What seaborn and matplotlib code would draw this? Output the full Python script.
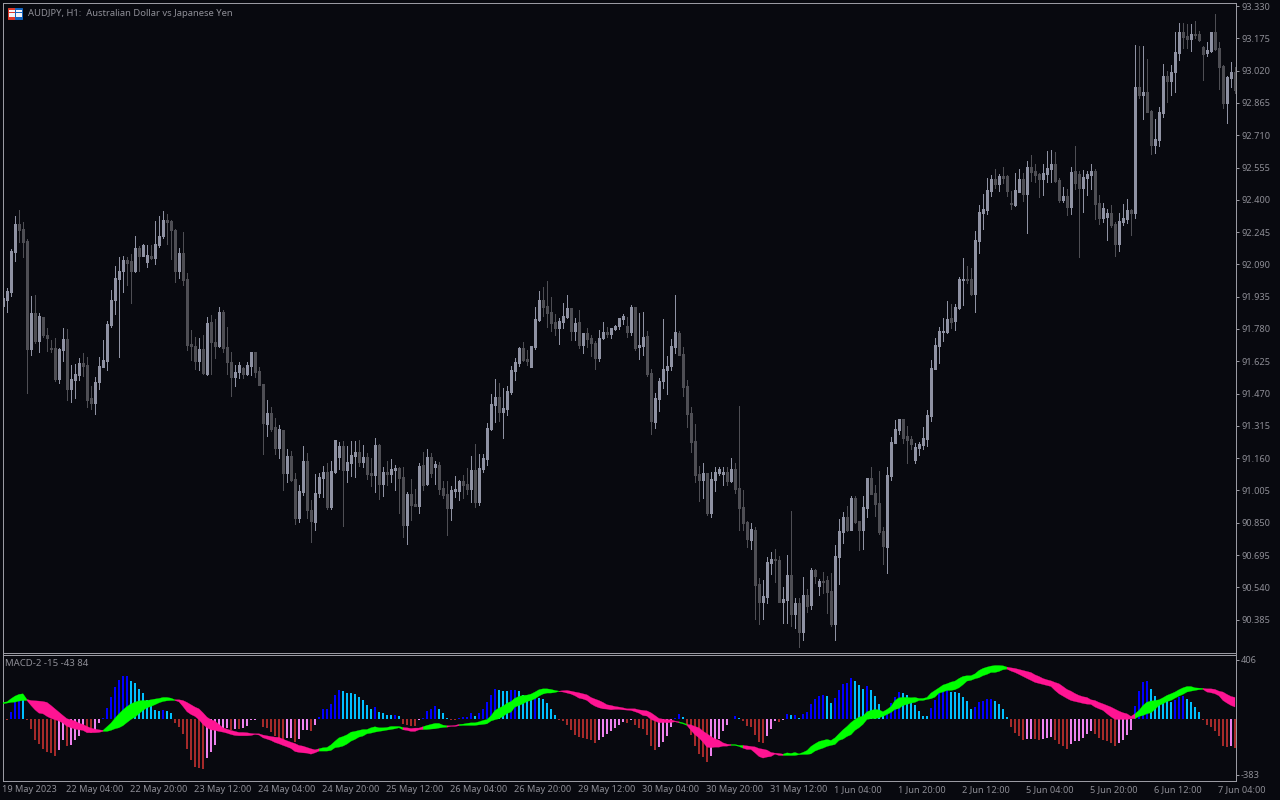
import numpy as np
import pandas as pd
import matplotlib
matplotlib.use("Agg")
import matplotlib.pyplot as plt
from matplotlib.patches import Rectangle
import seaborn as sns

candle_open = [
    91.890, 91.919, 91.957, 92.151, 92.284, 92.260, 92.202, 91.684, 91.857, 91.722,
    91.837, 91.751, 91.689, 91.689, 91.540, 91.679, 91.732, 91.492, 91.535, 91.559,
    91.617, 91.607, 91.449, 91.425, 91.525, 91.597, 91.626, 91.799, 91.919, 92.020,
    92.058, 92.111, 92.106, 92.058, 92.169, 92.130, 92.101, 92.130, 92.121, 92.183,
    92.226, 92.303, 92.298, 92.255, 92.058, 92.145, 92.020, 91.708, 91.698, 91.626,
    91.684, 91.564, 91.813, 91.717, 91.698, 91.861, 91.693, 91.621, 91.549, 91.573,
    91.593, 91.564, 91.602, 91.669, 91.578, 91.516, 91.324, 91.377, 91.309, 91.209,
    91.295, 91.089, 91.170, 91.060, 90.873, 90.997, 91.146, 90.911, 90.853, 90.993,
    91.065, 91.093, 90.925, 91.093, 91.165, 91.218, 91.103, 91.137, 91.170, 91.189,
    91.141, 91.165, 91.089, 91.079, 91.223, 91.036, 91.093, 91.084, 91.103, 91.113,
    91.069, 90.839, 90.988, 90.940, 90.930, 91.127, 91.036, 91.165, 91.117, 91.127,
    91.017, 90.988, 90.921, 91.002, 91.002, 91.050, 91.036, 91.012, 91.103, 90.949,
    91.108, 91.156, 91.300, 91.415, 91.453, 91.381, 91.396, 91.477, 91.578, 91.617,
    91.689, 91.636, 91.597, 91.693, 91.823, 91.919, 91.890, 91.861, 91.813, 91.785,
    91.813, 91.837, 91.881, 91.770, 91.813, 91.703, 91.761, 91.737, 91.713, 91.641,
    91.737, 91.765, 91.756, 91.780, 91.794, 91.828, 91.794, 91.765, 91.885, 91.693,
    91.698, 91.746, 91.569, 91.333, 91.444, 91.530, 91.583, 91.602, 91.693, 91.761,
    91.660, 91.506, 91.377, 91.242, 91.084, 91.055, 91.089, 90.897, 91.055, 91.089,
    91.084, 91.093, 91.050, 91.108, 91.017, 90.925, 90.853, 90.767, 90.815, 90.556,
    90.469, 90.493, 90.657, 90.676, 90.671, 90.469, 90.479, 90.599, 90.412, 90.465,
    90.325, 90.503, 90.455, 90.623, 90.546, 90.570, 90.575, 90.522, 90.364, 90.685,
    90.805, 90.877, 90.815, 90.969, 90.858, 90.815, 90.921, 91.065, 90.993, 90.945,
    90.810, 90.733, 91.074, 91.233, 91.295, 91.348, 91.266, 91.252, 91.151, 91.209,
    91.223, 91.252, 91.362, 91.588, 91.698, 91.765, 91.765, 91.833, 91.818, 91.881,
    92.015, 92.020, 92.020, 91.948, 92.202, 92.337, 92.351, 92.442, 92.500, 92.476,
    92.514, 92.514, 92.385, 92.377, 92.437, 92.500, 92.428, 92.557, 92.538, 92.524,
    92.500, 92.524, 92.548, 92.572, 92.495, 92.399, 92.418, 92.365, 92.538, 92.524,
    92.457, 92.505, 92.519, 92.538, 92.385, 92.313, 92.317, 92.337, 92.284, 92.188,
    92.293, 92.308, 92.351, 92.337, 92.941, 92.903, 92.917, 92.826, 92.663, 92.687,
    92.817, 92.994, 92.970, 93.013, 93.105, 93.205, 93.186, 93.172, 93.196, 93.196,
    93.133, 93.105, 93.114, 93.205, 93.129, 93.042, 92.865, 92.984, 93.013,
]
candle_close = [
    91.927, 91.962, 92.154, 92.284, 92.255, 92.197, 91.684, 91.857, 91.722, 91.842,
    91.751, 91.737, 91.684, 91.540, 91.684, 91.732, 91.492, 91.540, 91.564, 91.617,
    91.602, 91.439, 91.425, 91.525, 91.602, 91.631, 91.804, 91.919, 92.025, 92.058,
    92.111, 92.097, 92.058, 92.169, 92.130, 92.183, 92.135, 92.121, 92.188, 92.226,
    92.303, 92.293, 92.255, 92.058, 92.145, 92.015, 91.703, 91.698, 91.626, 91.684,
    91.569, 91.809, 91.717, 91.698, 91.861, 91.689, 91.621, 91.549, 91.573, 91.607,
    91.564, 91.607, 91.669, 91.573, 91.511, 91.329, 91.377, 91.300, 91.209, 91.300,
    91.089, 91.170, 91.055, 90.873, 91.002, 91.146, 90.911, 90.858, 90.993, 91.069,
    91.093, 90.925, 91.098, 91.247, 91.218, 91.103, 91.141, 91.175, 91.189, 91.141,
    91.165, 91.084, 91.079, 91.223, 91.036, 91.093, 91.084, 91.108, 91.113, 91.065,
    90.839, 90.988, 90.935, 90.930, 91.122, 91.031, 91.165, 91.089, 91.132, 91.012,
    90.983, 90.921, 91.007, 91.012, 91.050, 91.031, 91.012, 91.103, 90.949, 91.113,
    91.161, 91.305, 91.420, 91.453, 91.381, 91.401, 91.482, 91.583, 91.621, 91.689,
    91.631, 91.626, 91.698, 91.828, 91.919, 91.885, 91.857, 91.809, 91.785, 91.818,
    91.842, 91.881, 91.770, 91.809, 91.703, 91.761, 91.732, 91.713, 91.641, 91.737,
    91.765, 91.756, 91.785, 91.794, 91.833, 91.842, 91.765, 91.885, 91.689, 91.703,
    91.741, 91.564, 91.338, 91.449, 91.530, 91.588, 91.602, 91.698, 91.765, 91.655,
    91.501, 91.372, 91.237, 91.079, 91.055, 91.089, 90.897, 91.060, 91.093, 91.108,
    91.093, 91.050, 91.108, 91.012, 90.921, 90.849, 90.772, 90.820, 90.551, 90.469,
    90.498, 90.661, 90.676, 90.671, 90.469, 90.484, 90.599, 90.412, 90.465, 90.325,
    90.503, 90.450, 90.623, 90.594, 90.570, 90.565, 90.517, 90.364, 90.690, 90.810,
    90.877, 90.815, 90.969, 90.853, 90.815, 90.925, 91.065, 90.988, 90.940, 90.805,
    90.738, 91.079, 91.237, 91.300, 91.348, 91.257, 91.247, 91.228, 91.213, 91.228,
    91.257, 91.367, 91.593, 91.703, 91.770, 91.770, 91.828, 91.813, 91.885, 92.020,
    92.020, 92.015, 91.948, 92.207, 92.341, 92.354, 92.447, 92.500, 92.476, 92.514,
    92.505, 92.442, 92.380, 92.447, 92.500, 92.428, 92.557, 92.533, 92.519, 92.500,
    92.529, 92.553, 92.572, 92.490, 92.399, 92.418, 92.365, 92.533, 92.481, 92.457,
    92.509, 92.524, 92.538, 92.380, 92.313, 92.361, 92.337, 92.279, 92.188, 92.298,
    92.313, 92.351, 92.337, 92.941, 92.903, 92.917, 92.821, 92.663, 92.692, 92.821,
    92.994, 92.970, 93.013, 93.109, 93.205, 93.181, 93.172, 93.196, 93.191, 93.167,
    93.100, 93.119, 93.205, 93.124, 93.037, 92.865, 92.989, 93.013, 92.927,
]
candle_high = [
    91.927, 91.975, 92.164, 92.322, 92.351, 92.292, 92.212, 91.938, 91.943, 91.857,
    91.837, 91.785, 91.727, 91.737, 91.689, 91.785, 91.780, 91.607, 91.612, 91.641,
    91.665, 91.645, 91.506, 91.549, 91.645, 91.727, 91.818, 91.967, 92.082, 92.125,
    92.130, 92.125, 92.140, 92.226, 92.178, 92.188, 92.183, 92.183, 92.298, 92.322,
    92.346, 92.332, 92.303, 92.260, 92.169, 92.245, 92.049, 91.775, 91.741, 91.737,
    91.751, 91.837, 91.847, 91.828, 91.885, 91.871, 91.789, 91.669, 91.607, 91.621,
    91.597, 91.621, 91.669, 91.669, 91.597, 91.516, 91.439, 91.405, 91.353, 91.319,
    91.295, 91.204, 91.194, 91.089, 91.031, 91.218, 91.185, 90.959, 91.084, 91.089,
    91.122, 91.137, 91.146, 91.247, 91.237, 91.242, 91.218, 91.242, 91.242, 91.247,
    91.223, 91.185, 91.161, 91.257, 91.228, 91.117, 91.146, 91.156, 91.127, 91.117,
    91.117, 90.997, 91.060, 91.012, 91.137, 91.189, 91.204, 91.185, 91.146, 91.141,
    91.050, 91.050, 91.026, 91.074, 91.055, 91.079, 91.113, 91.170, 91.228, 91.180,
    91.180, 91.329, 91.468, 91.540, 91.521, 91.497, 91.506, 91.602, 91.641, 91.693,
    91.717, 91.679, 91.698, 91.885, 91.962, 91.981, 92.010, 91.933, 91.852, 91.833,
    91.905, 91.943, 91.881, 91.833, 91.871, 91.761, 91.785, 91.751, 91.722, 91.775,
    91.813, 91.789, 91.785, 91.799, 91.833, 91.852, 91.837, 91.895, 91.885, 91.857,
    91.861, 91.770, 91.588, 91.473, 91.545, 91.828, 91.650, 91.732, 91.943, 91.770,
    91.693, 91.535, 91.405, 91.324, 91.122, 91.137, 91.089, 91.093, 91.117, 91.117,
    91.117, 91.117, 91.161, 91.137, 91.410, 91.007, 90.858, 90.849, 90.829, 90.585,
    90.575, 90.685, 90.709, 90.724, 90.690, 90.541, 90.695, 90.906, 90.489, 90.489,
    90.589, 90.532, 90.633, 90.628, 90.580, 90.613, 90.594, 90.608, 90.743, 90.868,
    90.901, 90.930, 90.978, 90.978, 90.858, 90.978, 91.065, 91.117, 91.031, 91.098,
    90.829, 91.117, 91.261, 91.343, 91.348, 91.348, 91.314, 91.266, 91.233, 91.237,
    91.309, 91.391, 91.631, 91.737, 91.789, 91.833, 91.914, 91.900, 91.900, 92.029,
    92.121, 92.082, 92.073, 92.250, 92.375, 92.428, 92.505, 92.519, 92.548, 92.524,
    92.557, 92.519, 92.442, 92.529, 92.548, 92.529, 92.586, 92.615, 92.572, 92.529,
    92.572, 92.634, 92.639, 92.629, 92.505, 92.461, 92.452, 92.557, 92.658, 92.538,
    92.543, 92.538, 92.572, 92.548, 92.423, 92.385, 92.356, 92.375, 92.293, 92.337,
    92.380, 92.404, 92.356, 93.143, 93.138, 93.138, 93.076, 92.831, 92.788, 92.845,
    93.052, 93.018, 93.047, 93.205, 93.249, 93.249, 93.244, 93.244, 93.258, 93.210,
    93.138, 93.157, 93.205, 93.292, 93.157, 93.047, 92.994, 93.061, 93.037,
]
candle_low = [
    91.890, 91.863, 91.938, 92.108, 92.197, 92.127, 91.474, 91.655, 91.713, 91.669,
    91.741, 91.674, 91.669, 91.530, 91.521, 91.626, 91.439, 91.429, 91.449, 91.535,
    91.554, 91.405, 91.396, 91.372, 91.492, 91.597, 91.583, 91.789, 91.852, 91.645,
    91.957, 91.991, 91.905, 92.053, 92.058, 92.130, 92.077, 92.116, 92.092, 92.173,
    92.217, 92.188, 92.116, 92.005, 92.025, 91.991, 91.679, 91.631, 91.588, 91.583,
    91.564, 91.559, 91.564, 91.641, 91.693, 91.669, 91.564, 91.458, 91.506, 91.545,
    91.545, 91.559, 91.559, 91.549, 91.511, 91.180, 91.266, 91.290, 91.180, 91.161,
    91.007, 91.045, 91.050, 90.844, 90.853, 90.983, 90.873, 90.757, 90.815, 90.973,
    90.973, 90.916, 90.916, 91.089, 91.108, 90.834, 91.045, 91.074, 91.069, 91.122,
    91.117, 91.060, 91.026, 90.997, 90.964, 90.978, 91.031, 91.045, 91.007, 90.897,
    90.781, 90.748, 90.863, 90.930, 90.897, 91.007, 91.031, 91.069, 91.036, 90.988,
    90.969, 90.791, 90.863, 90.973, 90.959, 90.969, 90.988, 90.949, 90.925, 90.935,
    91.093, 91.127, 91.295, 91.333, 91.338, 91.257, 91.367, 91.468, 91.535, 91.602,
    91.626, 91.607, 91.597, 91.684, 91.818, 91.842, 91.789, 91.770, 91.751, 91.708,
    91.785, 91.833, 91.727, 91.727, 91.689, 91.665, 91.693, 91.650, 91.588, 91.626,
    91.732, 91.741, 91.737, 91.775, 91.780, 91.804, 91.741, 91.751, 91.679, 91.636,
    91.655, 91.554, 91.276, 91.305, 91.386, 91.497, 91.468, 91.583, 91.665, 91.655,
    91.458, 91.309, 91.189, 91.045, 90.954, 90.969, 90.887, 90.877, 91.002, 91.079,
    91.031, 91.031, 91.045, 90.993, 90.815, 90.815, 90.733, 90.724, 90.388, 90.364,
    90.388, 90.465, 90.604, 90.565, 90.469, 90.369, 90.369, 90.354, 90.345, 90.253,
    90.287, 90.421, 90.436, 90.561, 90.503, 90.513, 90.417, 90.354, 90.287, 90.556,
    90.753, 90.810, 90.815, 90.849, 90.719, 90.724, 90.877, 90.988, 90.882, 90.796,
    90.652, 90.609, 91.055, 91.233, 91.276, 91.233, 91.137, 91.204, 91.137, 91.175,
    91.204, 91.218, 91.338, 91.588, 91.617, 91.722, 91.761, 91.785, 91.775, 91.876,
    91.895, 92.001, 91.943, 91.861, 92.145, 92.260, 92.332, 92.418, 92.457, 92.442,
    92.481, 92.418, 92.356, 92.370, 92.437, 92.394, 92.241, 92.490, 92.485, 92.413,
    92.423, 92.485, 92.485, 92.485, 92.389, 92.389, 92.327, 92.332, 92.452, 92.125,
    92.341, 92.423, 92.452, 92.308, 92.284, 92.293, 92.207, 92.269, 92.130, 92.154,
    92.279, 92.289, 92.231, 92.313, 92.889, 92.788, 92.821, 92.620, 92.625, 92.658,
    92.797, 92.869, 92.903, 92.917, 93.071, 93.129, 93.129, 93.114, 93.177, 93.162,
    92.975, 93.090, 93.109, 93.119, 92.932, 92.841, 92.769, 92.941, 92.913,
]

macd_hist = [
    0, -7, 50, 114, 137, 130, -7, -69, -144, -174,
    -206, -226, -233, -254, -213, -144, -185, -178, -144, -117,
    -75, -89, -96, -75, -27, 7, 75, 151, 219, 267,
    295, 295, 261, 247, 206, 178, 130, 89, 62, 55,
    62, 55, 41, -27, -55, -103, -206, -281, -329, -336,
    -343, -267, -226, -178, -82, -62, -62, -75, -69, -70,
    -62, -48, -7, -7, -2, -55, -62, -89, -117, -130,
    -144, -130, -130, -158, -137, -75, -75, -82, -41, 14,
    69, 69, 103, 165, 199, 192, 178, 177, 171, 151,
    130, 96, 69, 82, 48, 41, 27, 26, 27, 21,
    -34, -41, -48, -49, -7, 7, 55, 69, 89, 69,
    41, 7, -5, -6, 7, 14, 14, 41, 21, 41,
    69, 117, 165, 206, 199, 192, 191, 199, 199, 192,
    165, 151, 130, 151, 144, 137, 110, 69, 27, -5,
    -14, -41, -75, -110, -123, -130, -137, -144, -165, -144,
    -123, -103, -82, -62, -41, -21, -27, -7, -41, -62,
    -69, -110, -185, -213, -192, -158, -117, -55, 7, 34,
    14, -41, -110, -185, -240, -261, -295, -254, -192, -137,
    -82, -41, 0, 21, 7, -14, -48, -55, -110, -158,
    -165, -117, -69, -14, -21, -5, 34, 27, 28, 7,
    34, 48, 103, 137, 158, 165, 158, 110, 144, 199,
    240, 247, 281, 261, 233, 206, 226, 199, 158, 103,
    46, 48, 110, 151, 185, 178, 165, 123, 96, 55,
    21, 20, 75, 130, 178, 199, 206, 185, 184, 178,
    151, 123, 69, 82, 117, 123, 137, 137, 123, 103,
    69, 14, -55, -96, -117, -144, -137, -137, -138, -144,
    -137, -130, -123, -144, -171, -185, -206, -171, -151, -151,
    -130, -103, -82, -103, -130, -144, -151, -165, -185, -165,
    -144, -110, -75, 89, 192, 254, 261, 206, 158, 130,
    129, 123, 117, 130, 151, 158, 137, 117, 82, 48,
    -5, -41, -55, -82, -117, -185, -192, -185, -199,
]
band_upper = [
    117, 121, 142, 160, 172, 176, 137, 130, 128, 126,
    123, 117, 96, 73, 50, 27, 5, -2, -11, -25,
    -34, -48, -59, -66, -71, -75, -50, -25, 9, 39,
    66, 89, 107, 119, 128, 130, 130, 135, 140, 144,
    151, 151, 146, 135, 135, 130, 117, 101, 85, 73,
    46, 16, -2, -11, -34, -57, -66, -75, -82, -89,
    -89, -91, -96, -98, -98, -107, -112, -117, -121, -123,
    -135, -146, -156, -165, -178, -183, -192, -201, -208, -201,
    -194, -192, -174, -149, -126, -117, -105, -87, -82, -75,
    -69, -69, -57, -50, -57, -57, -55, -48, -48, -48,
    -55, -57, -62, -59, -59, -50, -41, -34, -27, -27,
    -39, -43, -43, -41, -34, -32, -27, -23, -23, -16,
    -7, 0, 25, 62, 78, 91, 112, 123, 146, 158,
    165, 167, 174, 188, 204, 210, 210, 206, 199, 194,
    197, 199, 194, 188, 183, 176, 169, 151, 140, 130,
    117, 101, 96, 89, 85, 80, 73, 73, 73, 66,
    62, 59, 46, 27, 7, 2, 0, -2, -11, -16,
    -23, -34, -37, -48, -57, -80, -98, -117, -133, -142,
    -160, -169, -172, -172, -178, -178, -181, -185, -188, -199,
    -204, -210, -226, -231, -233, -238, -229, -233, -226, -236,
    -226, -213, -185, -167, -151, -144, -137, -144, -126, -98,
    -71, -48, -21, 0, 16, 23, 53, 62, 69, 66,
    53, 69, 89, 130, 149, 151, 151, 149, 151, 144,
    144, 151, 181, 199, 217, 236, 245, 256, 263, 281,
    295, 300, 300, 313, 336, 350, 359, 366, 370, 370,
    368, 359, 354, 350, 343, 336, 329, 322, 306, 295,
    281, 272, 265, 254, 245, 226, 206, 194, 178, 165,
    156, 151, 135, 130, 117, 107, 96, 85, 71, 57,
    46, 39, 21, 39, 62, 96, 119, 126, 130, 135,
    149, 165, 176, 188, 204, 217, 226, 226, 217, 215,
    213, 210, 210, 206, 194, 188, 172, 158, 151,
]
band_lower = [
    107, 112, 117, 119, 126, 130, 130, 96, 66, 43,
    39, 21, 7, -2, -11, -25, -48, -57, -66, -71,
    -75, -91, -91, -91, -89, -82, -82, -75, -64, -57,
    -43, -21, 0, 16, 39, 62, 80, 89, 101, 114,
    123, 128, 130, 130, 121, 89, 53, 34, 21, -2,
    -34, -57, -71, -75, -82, -87, -94, -103, -110, -112,
    -112, -112, -110, -103, -107, -126, -135, -144, -158, -167,
    -178, -188, -199, -220, -226, -229, -231, -238, -229, -217,
    -217, -217, -213, -194, -190, -183, -169, -149, -137, -121,
    -114, -98, -94, -87, -82, -78, -73, -69, -64, -57,
    -71, -75, -82, -82, -71, -69, -69, -66, -64, -59,
    -55, -53, -48, -48, -43, -41, -41, -41, -41, -37,
    -34, -30, -11, -2, 5, 21, 41, 50, 85, 96,
    107, 123, 130, 142, 160, 174, 181, 181, 185, 192,
    188, 181, 174, 162, 146, 140, 130, 107, 91, 80,
    73, 71, 66, 69, 69, 66, 64, 62, 53, 43,
    27, 23, 0, -11, -23, -21, -23, -21, -16, -23,
    -30, -41, -75, -105, -126, -156, -190, -194, -190, -190,
    -183, -183, -178, -178, -185, -197, -206, -206, -229, -254,
    -265, -258, -254, -238, -247, -247, -247, -247, -247, -242,
    -240, -240, -236, -217, -206, -197, -185, -178, -172, -144,
    -135, -117, -105, -75, -57, -34, 0, 5, 5, 11,
    21, 34, 48, 69, 75, 96, 103, 112, 117, 130,
    130, 137, 142, 153, 181, 188, 199, 199, 204, 217,
    238, 263, 268, 279, 286, 300, 309, 322, 322, 329,
    341, 345, 332, 322, 309, 295, 281, 268, 254, 247,
    240, 233, 226, 199, 176, 160, 144, 130, 123, 117,
    110, 105, 103, 85, 73, 62, 39, 18, 0, 0,
    0, 0, 5, 5, 21, 27, 39, 46, 69, 96,
    107, 123, 130, 146, 160, 172, 188, 194, 199, 204,
    206, 188, 183, 176, 162, 130, 112, 96, 85,
]
# stretches of the signal band: (first bar, last bar), rising = lime, falling = pink
rising_spans = [(0, 5), (25, 42), (79, 99), (105, 110), (114, 138), (169, 170),
                (182, 184), (195, 250), (283, 299)]
falling_spans = [(6, 24), (43, 78), (100, 104), (111, 113), (139, 168), (171, 181),
                 (185, 194), (251, 282), (300, 308)]

price_ticks = [93.330, 93.175, 93.020, 92.865, 92.710, 92.555, 92.400, 92.245, 92.090,
               91.935, 91.780, 91.625, 91.470, 91.315, 91.160, 91.005, 90.850, 90.695,
               90.540, 90.385]
date_ticks = list(range(0, 305, 16))
date_labels = ["19 May 2023", "22 May 04:00", "22 May 20:00", "23 May 12:00", "24 May 04:00",
               "24 May 20:00", "25 May 12:00", "26 May 04:00", "26 May 20:00", "29 May 12:00",
               "30 May 04:00", "30 May 20:00", "31 May 12:00", "1 Jun 04:00", "1 Jun 20:00",
               "2 Jun 12:00", "5 Jun 04:00", "5 Jun 20:00", "6 Jun 12:00", "7 Jun 04:00"]

BG = "#08090f"
FG = "#8e8e96"
AXIS = "#9a9aa2"
UP = "#8f92a3"
DOWN = "#4e4e54"

sns.set_theme(style="dark", rc={"figure.facecolor": BG, "axes.facecolor": BG, "savefig.facecolor": BG})
plt.rcParams["font.family"] = ["Noto Sans", "DejaVu Sans"]
plt.rcParams["font.size"] = 6.6


def px_axes(fig, left, top, right, bottom):
    return fig.add_axes([left / 1280, 1 - bottom / 800, (right - left) / 1280, (bottom - top) / 800])


fig = plt.figure(figsize=(12.8, 8), dpi=100)
ax = px_axes(fig, 2.5, 2.5, 1235.5, 652.5)
ax2 = px_axes(fig, 2.5, 654.5, 1235.5, 780.5)

bars = np.arange(len(candle_open))
opens = np.array(candle_open)
closes = np.array(candle_close)
colors = [UP if c >= o else DOWN for o, c in zip(opens, closes)]

# candles
ax.vlines(bars, candle_low, candle_high, colors=colors, linewidth=0.72, capstyle="butt", antialiased=False)
ax.vlines(bars, np.minimum(opens, closes), np.maximum(opens, closes), colors=colors,
          linewidth=2.16, capstyle="butt", antialiased=False)
ax.set_xlim(0, 308.25)
ax.set_ylim(90.227, 93.347)
ax.set_xticks([])
ax.yaxis.tick_right()
ax.set_yticks(price_ticks)
ax.set_yticklabels([f"{p:.3f}" for p in price_ticks])

# histogram, colour follows sign and direction
hist = pd.DataFrame({"bar": bars, "value": macd_hist})
prev = hist["value"].shift(1).fillna(0)
hist["state"] = np.select(
    [(hist["value"] >= 0) & (hist["value"] >= prev), hist["value"] >= 0, hist["value"] < prev],
    ["up_rise", "up_fall", "down_fall"], "down_rise")
palette = {"up_rise": "#0000ff", "up_fall": "#00bfff", "down_fall": "#a52a2a", "down_rise": "#ee82ee"}
sns.barplot(data=hist, x="bar", y="value", hue="state", palette=palette, native_scale=True, dodge=False,
            width=0.5, saturation=1, linewidth=0, errorbar=None, legend=False, ax=ax2)

upper = np.array(band_upper)
lower = np.array(band_lower)
for spans, col in ((rising_spans, "#00ff00"), (falling_spans, "#ff1493")):
    for start, end in spans:
        stop = min(end + 2, len(bars))
        ax2.fill_between(bars[start:stop], lower[start:stop], upper[start:stop], color=col,
                         linewidth=0.2, zorder=3)

ax2.set_xlim(0, 308.25)
ax2.set_ylim(-422, 442)
ax2.set_xlabel("")
ax2.set_ylabel("")
ax2.yaxis.tick_right()
ax2.set_yticks([406, -383])
ax2.set_yticklabels(["406", "-383"])
ax2.set_xticks(date_ticks)
ax2.set_xticklabels(date_labels, ha="left")

for a in (ax, ax2):
    a.grid(False)
    a.tick_params(axis="both", length=2.5, width=0.72, color=AXIS, labelcolor=FG, labelsize=6.6, pad=1.5)
    for s in a.spines.values():
        s.set_color(AXIS)
        s.set_linewidth(0.72)
ax2.tick_params(axis="x", pad=1)

ax.text(28 / 1280, 1 - 14 / 800, "AUDJPY, H1:  Australian Dollar vs Japanese Yen", color=FG, fontsize=6.8,
        va="center", transform=fig.transFigure)
ax2.text(5 / 1280, 1 - 663.5 / 800, "MACD-2 -15 -43 84", color=FG, fontsize=6.9, va="center",
         transform=fig.transFigure)

# little symbol icon in the corner
tf = fig.transFigure
for left, width, col in ((8, 7, "#e0392b"), (15, 7, "#1565c0")):
    fig.add_artist(Rectangle((left / 1280, 1 - 19 / 800), width / 1280, 11 / 800, facecolor=col,
                             edgecolor=col, linewidth=0.7, transform=tf))
    for y in (10, 12.7, 15.4):
        fig.add_artist(Rectangle(((left + 1) / 1280, 1 - (y + 2) / 800), (width - 1.5) / 1280, 2 / 800,
                                 facecolor="#f4f4f8", linewidth=0, transform=tf))

fig.savefig("out.png", dpi=100)
